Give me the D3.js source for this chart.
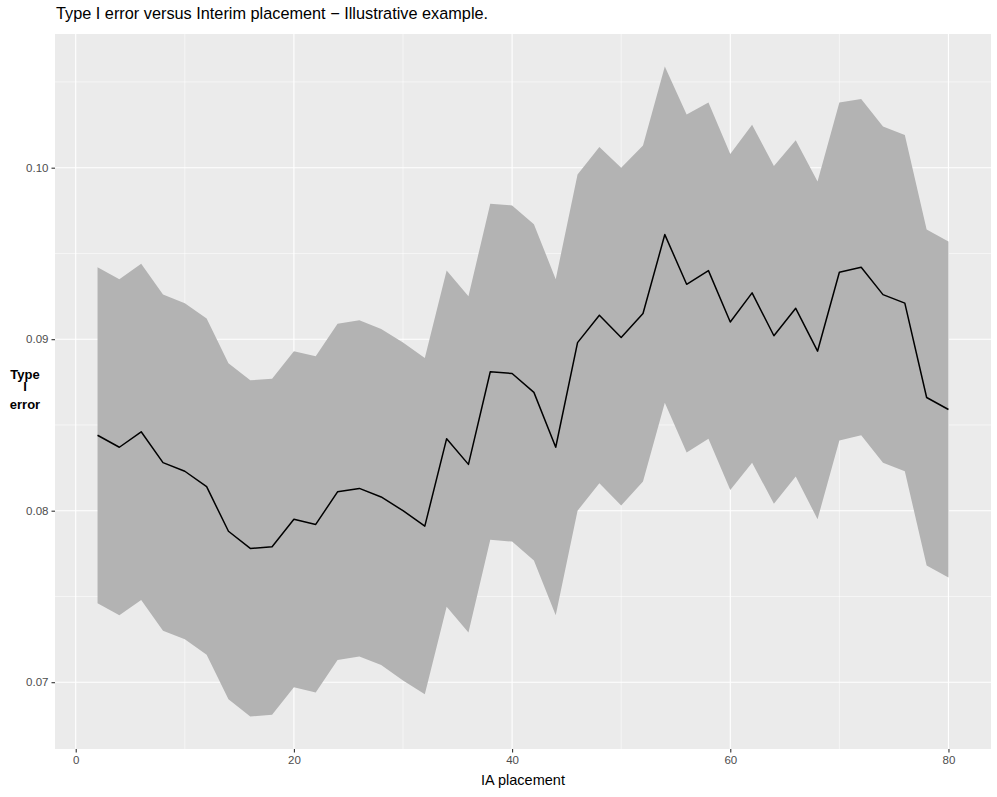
<!DOCTYPE html>
<html>
<head>
<meta charset="utf-8">
<script src="https://cdn.jsdelivr.net/npm/d3@7"></script>
<style>
  body { margin: 0; background: #fff; }
  text { font-family: "Liberation Sans", Arial, sans-serif; }
</style>
</head>
<body>
<div id="chart"></div>
<script>
// IA placement (x), point estimate and ribbon bounds
var placement = [2, 4, 6, 8, 10, 12, 14, 16, 18, 20, 22, 24, 26, 28, 30, 32, 34, 36, 38, 40,
                 42, 44, 46, 48, 50, 52, 54, 56, 58, 60, 62, 64, 66, 68, 70, 72, 74, 76, 78, 80];
var typeIError = [0.0844, 0.0837, 0.0846, 0.0828, 0.0823, 0.0814, 0.0788, 0.0778, 0.0779, 0.0795,
                  0.0792, 0.0811, 0.0813, 0.0808, 0.0800, 0.0791, 0.0842, 0.0827, 0.0881, 0.0880,
                  0.0869, 0.0837, 0.0898, 0.0914, 0.0901, 0.0915, 0.0961, 0.0932, 0.0940, 0.0910,
                  0.0927, 0.0902, 0.0918, 0.0893, 0.0939, 0.0942, 0.0926, 0.0921, 0.0866, 0.0859];
var lower = [0.0746, 0.0739, 0.0748, 0.0730, 0.0725, 0.0716, 0.0690, 0.0680, 0.0681, 0.0697,
             0.0694, 0.0713, 0.0715, 0.0710, 0.0701, 0.0693, 0.0744, 0.0729, 0.0783, 0.0782,
             0.0771, 0.0739, 0.0800, 0.0816, 0.0803, 0.0817, 0.0863, 0.0834, 0.0842, 0.0812,
             0.0828, 0.0804, 0.0820, 0.0795, 0.0841, 0.0844, 0.0828, 0.0823, 0.0768, 0.0761];
var upper = [0.0942, 0.0935, 0.0944, 0.0926, 0.0921, 0.0912, 0.0886, 0.0876, 0.0877, 0.0893,
             0.0890, 0.0909, 0.0911, 0.0906, 0.0898, 0.0889, 0.0940, 0.0925, 0.0979, 0.0978,
             0.0967, 0.0935, 0.0996, 0.1012, 0.1000, 0.1013, 0.1059, 0.1031, 0.1038, 0.1008,
             0.1025, 0.1001, 0.1016, 0.0992, 0.1038, 0.1040, 0.1024, 0.1019, 0.0964, 0.0957];
var xTicks = [0, 20, 40, 60, 80];
var xMinor = [10, 30, 50, 70];
var yTicks = [0.07, 0.08, 0.09, 0.10];
var yMinor = [0.075, 0.085, 0.095, 0.105];

var chartTitle = "Type I error versus Interim placement \u2212 Illustrative example.";
var xTitle = "IA placement";
var yTitle = ["Type", "I", "error"];

var data = placement.map(function(p, i) {
    return {x: p, y: typeIError[i], lo: lower[i], hi: upper[i]};
});

var width = 997, height = 797;
var margin = {top: 34, right: 6, bottom: 48, left: 55};

// ggplot style 5% expansion
var expand = function(ext) {
    var d = (ext[1] - ext[0]) * 0.05;
    return [ext[0] - d, ext[1] + d];
};

var xScale = d3.scaleLinear()
    .domain(expand(d3.extent(placement)))
    .range([margin.left, width - margin.right]);
var yScale = d3.scaleLinear()
    .domain(expand([d3.min(lower), d3.max(upper)]))
    .range([height - margin.bottom, margin.top]);

var svg = d3.select("#chart").append("svg")
    .attr("width", width)
    .attr("height", height);

// panel background
svg.append("rect")
    .attr("x", margin.left)
    .attr("y", margin.top)
    .attr("width", width - margin.left - margin.right)
    .attr("height", height - margin.top - margin.bottom)
    .style("fill", "#EBEBEB");

var grid = svg.append("g").attr("class", "grid");

grid.selectAll("line.xminor").data(xMinor).enter().append("line")
    .attr("x1", function(d) { return xScale(d); })
    .attr("x2", function(d) { return xScale(d); })
    .attr("y1", margin.top).attr("y2", height - margin.bottom)
    .style("stroke", "#fff").style("stroke-width", 0.55);
grid.selectAll("line.yminor").data(yMinor).enter().append("line")
    .attr("y1", function(d) { return yScale(d); })
    .attr("y2", function(d) { return yScale(d); })
    .attr("x1", margin.left).attr("x2", width - margin.right)
    .style("stroke", "#fff").style("stroke-width", 0.55);
grid.selectAll("line.xmajor").data(xTicks).enter().append("line")
    .attr("x1", function(d) { return xScale(d); })
    .attr("x2", function(d) { return xScale(d); })
    .attr("y1", margin.top).attr("y2", height - margin.bottom)
    .style("stroke", "#fff").style("stroke-width", 1.1);
grid.selectAll("line.ymajor").data(yTicks).enter().append("line")
    .attr("y1", function(d) { return yScale(d); })
    .attr("y2", function(d) { return yScale(d); })
    .attr("x1", margin.left).attr("x2", width - margin.right)
    .style("stroke", "#fff").style("stroke-width", 1.1);

// ribbon
var area = d3.area()
    .x(function(d) { return xScale(d.x); })
    .y0(function(d) { return yScale(d.lo); })
    .y1(function(d) { return yScale(d.hi); });
svg.append("path")
    .datum(data)
    .attr("d", area)
    .style("fill", "#B3B3B3");

// line
var line = d3.line()
    .x(function(d) { return xScale(d.x); })
    .y(function(d) { return yScale(d.y); });
svg.append("path")
    .datum(data)
    .attr("d", line)
    .style("fill", "none")
    .style("stroke", "#000")
    .style("stroke-width", 1.5)
    .style("stroke-linejoin", "round");

// axes
var xAxis = d3.axisBottom(xScale).tickValues(xTicks).tickSize(3.5).tickPadding(3)
    .tickFormat(d3.format("d"));
var yAxis = d3.axisLeft(yScale).tickValues(yTicks).tickSize(3.5).tickPadding(3)
    .tickFormat(d3.format(".2f"));

svg.append("g")
    .attr("transform", "translate(0," + (height - margin.bottom) + ")")
    .call(xAxis);
svg.append("g")
    .attr("transform", "translate(" + margin.left + ",0)")
    .call(yAxis);

svg.selectAll(".domain").remove();
svg.selectAll(".tick line").style("stroke", "#333").style("stroke-width", 1.1);
svg.selectAll(".tick text")
    .style("fill", "#4D4D4D")
    .style("font-size", "11.5px")
    .style("font-family", "'Liberation Sans', Arial, sans-serif");

// titles
svg.append("text")
    .attr("x", 56)
    .attr("y", 18.5)
    .style("font-size", "16.3px")
    .style("fill", "#000")
    .text(chartTitle);

svg.append("text")
    .attr("x", (margin.left + width - margin.right) / 2)
    .attr("y", 785)
    .style("text-anchor", "middle")
    .style("font-size", "14.5px")
    .style("fill", "#000")
    .text(xTitle);

// y title: tightly stacked lines as in the original
var yBase = [379, 391, 409];
svg.append("g").selectAll("text").data(yTitle).enter().append("text")
    .attr("x", 25)
    .attr("y", function(d, i) { return yBase[i]; })
    .style("text-anchor", "middle")
    .style("font-size", "13px")
    .style("font-weight", "bold")
    .style("fill", "#000")
    .text(function(d) { return d; });
</script>
</body>
</html>
